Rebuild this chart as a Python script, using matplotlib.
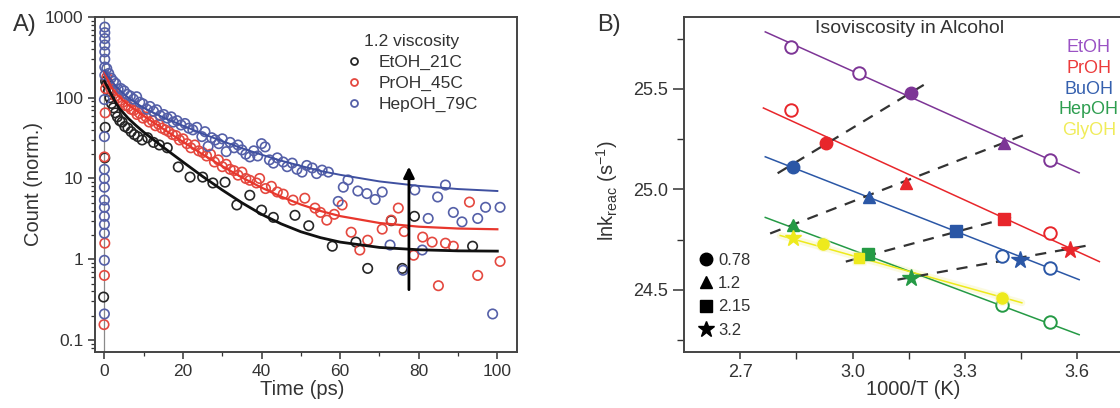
import numpy as np
import matplotlib.pyplot as plt
from matplotlib.lines import Line2D
from matplotlib.ticker import FixedLocator, NullFormatter

plt.rcParams['font.family'] = ['Liberation Sans', 'DejaVu Sans']

# ---------------- A) decay traces (time ps, counts norm.) ----------------
etoh_pts = [(-0.2, 0.34), (0.1, 18), (0.2, 43), (0.3, 160),
            (0.6, 150), (1.0, 120), (1.4, 100), (1.8, 85), (2.3, 75), (2.8, 65),
            (3.3, 58), (3.9, 52), (4.5, 50), (5.2, 44), (6.0, 42), (6.8, 38),
            (7.6, 35), (8.5, 33), (9.6, 30), (11.0, 32), (12.5, 28), (14.0, 26),
            (16.0, 24), (18.8, 13.9), (21.8, 10.4), (25.0, 10.4), (27.6, 8.8),
            (30.7, 9.0), (33.7, 4.7), (37.0, 6.2), (40.0, 4.06), (43.0, 3.3),
            (48.5, 3.5), (52.0, 2.6), (58.0, 1.45), (64.0, 1.63), (67.0, 0.77),
            (73.0, 3.0), (75.8, 0.77), (78.9, 3.4), (93.7, 1.45)]

proh_pts = [(-0.1, 0.155), (0.0, 0.63), (0.1, 1.58), (0.0, 18.5), (0.2, 65), (0.3, 130),
            (0.6, 180), (1.1, 150), (1.6, 130), (2.2, 120), (2.8, 105), (3.4, 100),
            (4.0, 92), (4.7, 88), (5.4, 80), (6.1, 78), (6.8, 72), (7.5, 70),
            (8.3, 62), (9.0, 64), (9.8, 56), (10.6, 58), (11.4, 50), (12.2, 52),
            (13.0, 45), (13.8, 47), (14.6, 42), (15.5, 40), (16.4, 38), (17.3, 35),
            (18.2, 34), (19.1, 30), (20.0, 31), (21.0, 27), (22.0, 24), (23.0, 26),
            (24.0, 22), (25.0, 21), (26.0, 19), (27.0, 20), (28.0, 16), (29.0, 17),
            (30.0, 14), (31.0, 15), (32.0, 13), (33.0, 12.5), (34.0, 11), (35.0, 12),
            (36.0, 10), (37.0, 9.5), (38.7, 8.8), (39.5, 10), (41.0, 7.5), (42.5, 8),
            (44.0, 6.8), (45.5, 6.4), (48.0, 5.4), (51.0, 5.7), (53.6, 4.3), (55.0, 3.8),
            (56.6, 3.05), (58.5, 3.6), (60.5, 4.7), (62.8, 2.16), (65.0, 1.3), (67.0, 1.72),
            (70.7, 2.36), (73.0, 3.05), (74.8, 4.3), (76.3, 2.2), (78.7, 1.12), (81.0, 1.88),
            (83.4, 1.63), (85.0, 0.47), (86.8, 1.58), (88.8, 1.45), (92.9, 5.1), (95.0, 0.63),
            (100.7, 0.94)]

hepoh_pts = [(0.0, 0.21), (0.0, 0.97), (0.0, 2.1), (0.0, 2.7), (0.0, 3.4), (0.0, 4.4),
             (0.0, 5.4), (0.0, 7.8), (0.0, 10), (0.0, 13), (0.0, 33), (0.0, 95),
             (0.1, 190), (0.1, 240), (0.1, 300), (0.1, 370), (0.1, 450), (0.1, 540),
             (0.1, 640), (0.1, 750),
             (0.6, 230), (1.1, 200), (1.7, 175), (2.3, 160), (2.9, 150), (3.5, 128),
             (4.2, 130), (5.0, 122), (5.8, 110), (6.6, 105), (7.4, 96), (8.2, 103),
             (9.0, 88), (9.8, 84), (10.8, 72), (11.6, 78), (12.5, 68), (13.3, 71),
             (14.2, 60), (15.1, 62), (16.0, 56), (17.0, 58), (17.5, 50), (18.5, 52),
             (19.5, 46), (20.5, 48), (21.5, 42), (22.5, 40), (23.5, 43), (24.8, 33),
             (25.6, 38), (26.4, 25), (27.3, 32), (28.2, 30), (29.1, 27), (30.0, 31),
             (31.0, 21.5), (32.0, 28), (33.0, 24), (34.0, 26), (35.0, 22.6), (36.0, 20),
             (37.0, 18.5), (38.0, 22), (39.0, 19), (40.0, 27), (40.9, 24.6), (42.0, 17),
             (43.0, 15.5), (44.0, 18), (45.5, 16), (46.5, 14), (47.8, 15.5), (49.0, 13),
             (50.3, 12), (51.5, 14.5), (52.9, 13.5), (54.0, 11.5), (55.4, 12.7), (57.0, 12),
             (59.5, 5.2), (60.8, 7.8), (62.0, 9.6), (64.5, 7.0), (66.8, 6.5), (68.9, 5.5),
             (70.7, 6.8), (72.7, 1.5), (76.0, 0.73), (79.0, 7.2), (80.9, 1.3), (82.4, 3.2),
             (84.8, 5.9), (86.8, 8.3), (88.8, 3.8), (91.0, 2.9), (95.0, 3.2), (97.0, 4.4),
             (98.8, 0.21), (100.7, 4.4)]

fit_t = [0, 0.5, 1, 2, 3, 4, 6, 8, 10, 12, 15, 20, 25, 30, 35, 40, 45, 50, 55, 60, 70, 80, 90, 100]
etoh_fit = [160, 145, 130, 104, 85, 72, 56, 45.5, 37.5, 31.5, 24.3, 16.0, 10.6, 7.2,
            5.0, 3.6, 2.74, 2.19, 1.85, 1.63, 1.40, 1.31, 1.27, 1.26]
proh_fit = [208, 180, 160, 131, 113, 100, 82, 70, 59.6, 51.3, 41, 28.4, 19.9, 14.2,
            10.3, 7.7, 5.95, 4.76, 3.96, 3.42, 2.81, 2.53, 2.4, 2.35]
hepoh_fit = [218, 199, 183, 158, 138, 123, 101, 86, 75, 67, 57, 45, 35.8, 29,
             23.7, 19.7, 16.6, 14.3, 12.4, 11.1, 9.2, 8.1, 7.4, 7.0]

series_names = ['EtOH_21C', 'PrOH_45C', 'HepOH_79C']
series_colors = ['#262626', '#e4483f', '#5560a8']
fit_colors = ['#111111', '#e8372d', '#3f50a0']
arrow_t = 77.5
arrow_y = (0.42, 14)

# ---------------- B) isoviscosity ----------------
alcohols = ['EtOH', 'PrOH', 'BuOH', 'HepOH', 'GlyOH']
alc_colors = ['#7d3596', '#e8262b', '#2b57a6', '#259a45', '#eeea1c']
alc_text_colors = ['#9a52c4', '#ec3b3b', '#3560ae', '#2e9e50', '#f0ec5a']

# linear fits drawn per alcohol (start / end)
line_x0 = [2.767, 2.762, 2.767, 2.767, 2.807]
line_x1 = [3.605, 3.659, 3.605, 3.605, 3.452]
line_y0 = [25.784, 25.405, 25.162, 24.860, 24.770]
line_y1 = [25.082, 24.640, 24.550, 24.276, 24.435]

# open circles (other temperatures)
open_alc = ['EtOH', 'EtOH', 'EtOH', 'PrOH', 'PrOH', 'BuOH', 'BuOH', 'HepOH', 'HepOH']
open_x = [2.837, 3.017, 3.527, 2.837, 3.527, 3.398, 3.527, 3.398, 3.527]
open_y = [25.709, 25.580, 25.147, 25.395, 24.780, 24.670, 24.610, 24.425, 24.340]

# isoviscous points
visc_labels = ['0.78', '1.2', '2.15', '3.2']
visc_markers = ['o', '^', 's', '*']
visc_sizes = [9, 9, 8, 13]
pts_alc = ['EtOH', 'PrOH', 'BuOH',
           'EtOH', 'PrOH', 'BuOH', 'HepOH',
           'PrOH', 'BuOH', 'HepOH',
           'PrOH', 'BuOH', 'HepOH',
           'GlyOH', 'GlyOH', 'GlyOH', 'GlyOH']
pts_visc = ['0.78', '0.78', '0.78',
            '1.2', '1.2', '1.2', '1.2',
            '2.15', '2.15', '2.15',
            '3.2', '3.2', '3.2',
            '3.2', '0.78', '2.15', '0.78']
pts_x = [3.157, 2.928, 2.840,
         3.404, 3.143, 3.044, 2.840,
         3.404, 3.277, 3.041,
         3.581, 3.447, 3.157,
         2.840, 2.920, 3.017, 3.398]
pts_y = [25.480, 25.230, 25.110,
         25.230, 25.030, 24.960, 24.820,
         24.853, 24.790, 24.680,
         24.700, 24.650, 24.560,
         24.760, 24.730, 24.660, 24.460]

# dashed isoviscosity guides (start / end)
dash_x0 = [2.800, 2.780, 2.982, 3.120]
dash_x1 = [3.190, 3.457, 3.439, 3.627]
dash_y0 = [25.080, 24.780, 24.640, 24.550]
dash_y1 = [25.520, 25.270, 24.870, 24.720]

fig = plt.figure(figsize=(11.2, 4.08), dpi=100)

# ======================= panel A =======================
axA = fig.add_axes([0.0848, 0.1373, 0.3768, 0.821])
for pts, c in zip([etoh_pts, proh_pts, hepoh_pts], series_colors):
    t, y = np.array(pts).T
    axA.scatter(t, y, s=46, facecolors='none', edgecolors=c, linewidths=1.2, zorder=2)
axA.axvline(0, color='#8a8a8a', lw=0.9, zorder=1)
for f, c, lw in zip([etoh_fit, proh_fit, hepoh_fit], fit_colors, [2.0, 1.6, 1.4]):
    axA.plot(fit_t, f, color=c, lw=lw, zorder=3)
axA.annotate('', xy=(arrow_t, arrow_y[1]), xytext=(arrow_t, arrow_y[0]),
             arrowprops=dict(arrowstyle='-|>', color='black', lw=2.0,
                             mutation_scale=16, shrinkA=0, shrinkB=0), zorder=4)
axA.set_yscale('log')
axA.set_ylim(0.071, 1000)
axA.set_xlim(-2.4, 105)
axA.set_xticks([0, 20, 40, 60, 80, 100])
axA.xaxis.set_minor_locator(FixedLocator([10, 30, 50, 70, 90]))
axA.set_yticks([0.1, 1, 10, 100, 1000])
axA.set_yticklabels(['0.1', '1', '10', '100', '1000'])
axA.yaxis.set_minor_formatter(NullFormatter())
axA.tick_params(which='major', length=5, width=1.1, labelsize=12.5, colors='#333333')
axA.tick_params(which='minor', length=3, width=0.9, colors='#333333')
axA.set_xlabel('Time (ps)', fontsize=14.5, color='#333333')
axA.set_ylabel('Count (norm.)', fontsize=14.5, color='#333333')
axA.xaxis.set_label_coords(0.49, -0.085)
axA.yaxis.set_label_coords(-0.122, 0.5)
for s in axA.spines.values():
    s.set_linewidth(1.4)
    s.set_color('#444444')

handles = [Line2D([], [], ls='none', marker='o', ms=5, mfc='none', mec=c, mew=1.3)
           for c in series_colors]
legA = axA.legend(handles, series_names, title='1.2 viscosity', loc='upper center',
                  bbox_to_anchor=(0.75, 0.99), frameon=False, fontsize=12.5,
                  title_fontsize=12.5, labelspacing=0.32, handletextpad=0.9,
                  handlelength=1.0, borderpad=0.3)
for txt in legA.get_texts():
    txt.set_color('#333333')
legA.get_title().set_color('#333333')
fig.text(0.012, 0.925, 'A)', fontsize=17, color='#333333')

# ======================= panel B =======================
axB = fig.add_axes([0.6107, 0.1373, 0.3913, 0.821])
for i, alc in enumerate(alcohols):
    if alc == 'GlyOH':
        axB.plot([line_x0[i], line_x1[i]], [line_y0[i], line_y1[i]],
                 color='#f8f6c0', lw=5, alpha=0.5, solid_capstyle='round', zorder=1)
    axB.plot([line_x0[i], line_x1[i]], [line_y0[i], line_y1[i]],
             color=alc_colors[i], lw=1.1, zorder=2)
for i in range(len(dash_x0)):
    axB.plot([dash_x0[i], dash_x1[i]], [dash_y0[i], dash_y1[i]], color='#333333',
             lw=1.6, dashes=(5, 4), zorder=3)
for a, x, y in zip(open_alc, open_x, open_y):
    c = alc_colors[alcohols.index(a)]
    axB.plot(x, y, ls='none', marker='o', ms=9, mfc='white', mec=c, mew=1.4, zorder=4)
for a, v, x, y in zip(pts_alc, pts_visc, pts_x, pts_y):
    c = alc_colors[alcohols.index(a)]
    k = visc_labels.index(v)
    size = visc_sizes[k]
    if a == 'GlyOH':
        size -= 1
        axB.plot(x, y, ls='none', marker=visc_markers[k], ms=size + 3,
                 mfc='#f8f6c0', mec='none', alpha=0.5, zorder=4)
    axB.plot(x, y, ls='none', marker=visc_markers[k], ms=size,
             mfc=c, mec=c, zorder=5)

axB.set_xlim(2.55, 3.72)
axB.set_ylim(24.19, 25.858)
axB.set_xticks([2.7, 3.0, 3.3, 3.6])
axB.set_xticklabels(['2.7', '3.0', '3.3', '3.6'])
axB.xaxis.set_minor_locator(FixedLocator([2.85, 3.15, 3.45]))
axB.set_yticks([24.5, 25.0, 25.5])
axB.set_yticklabels(['24.5', '25.0', '25.5'])
axB.yaxis.set_minor_locator(FixedLocator([24.25, 24.75, 25.25, 25.75]))
axB.tick_params(axis='y', which='major', length=8, width=1.1, labelsize=13, colors='#333333')
axB.tick_params(axis='y', which='minor', length=5, width=1.0, colors='#333333')
axB.tick_params(axis='x', which='major', length=5, width=1.1, labelsize=13, colors='#333333')
axB.tick_params(axis='x', which='minor', length=5, width=1.0, colors='#333333')
axB.set_xlabel('1000/T (K)', fontsize=14.5, color='#333333')
axB.set_ylabel('lnk$_{\\mathregular{reac}}$ (s$^{\\mathregular{-1}}$)', fontsize=14.5,
               color='#333333')
axB.xaxis.set_label_coords(0.523, -0.085)
axB.yaxis.set_label_coords(-0.145, 0.48)
for s in axB.spines.values():
    s.set_linewidth(1.4)
    s.set_color('#444444')
axB.text(0.515, 0.965, 'Isoviscosity in Alcohol', transform=axB.transAxes, ha='center',
         va='center', fontsize=14, color='#333333')
name_y = [0.908, 0.845, 0.785, 0.725, 0.660]
for name, c, y in zip(alcohols, alc_text_colors, name_y):
    axB.text(0.924, y, name, transform=axB.transAxes, ha='center', va='center',
             fontsize=13, color=c)

mhandles = [Line2D([], [], ls='none', marker=m, ms=s, color='black')
            for m, s in zip(visc_markers, [9, 9, 8, 12])]
legB = axB.legend(mhandles, visc_labels, loc='lower left', bbox_to_anchor=(0.0, 0.0),
                  frameon=False, fontsize=12, labelspacing=0.5, handletextpad=0.2,
                  handlelength=1.0, borderpad=0.35)
for txt in legB.get_texts():
    txt.set_color('#333333')
fig.text(0.533, 0.925, 'B)', fontsize=17, color='#333333')

fig.savefig('out.png', dpi=100)
